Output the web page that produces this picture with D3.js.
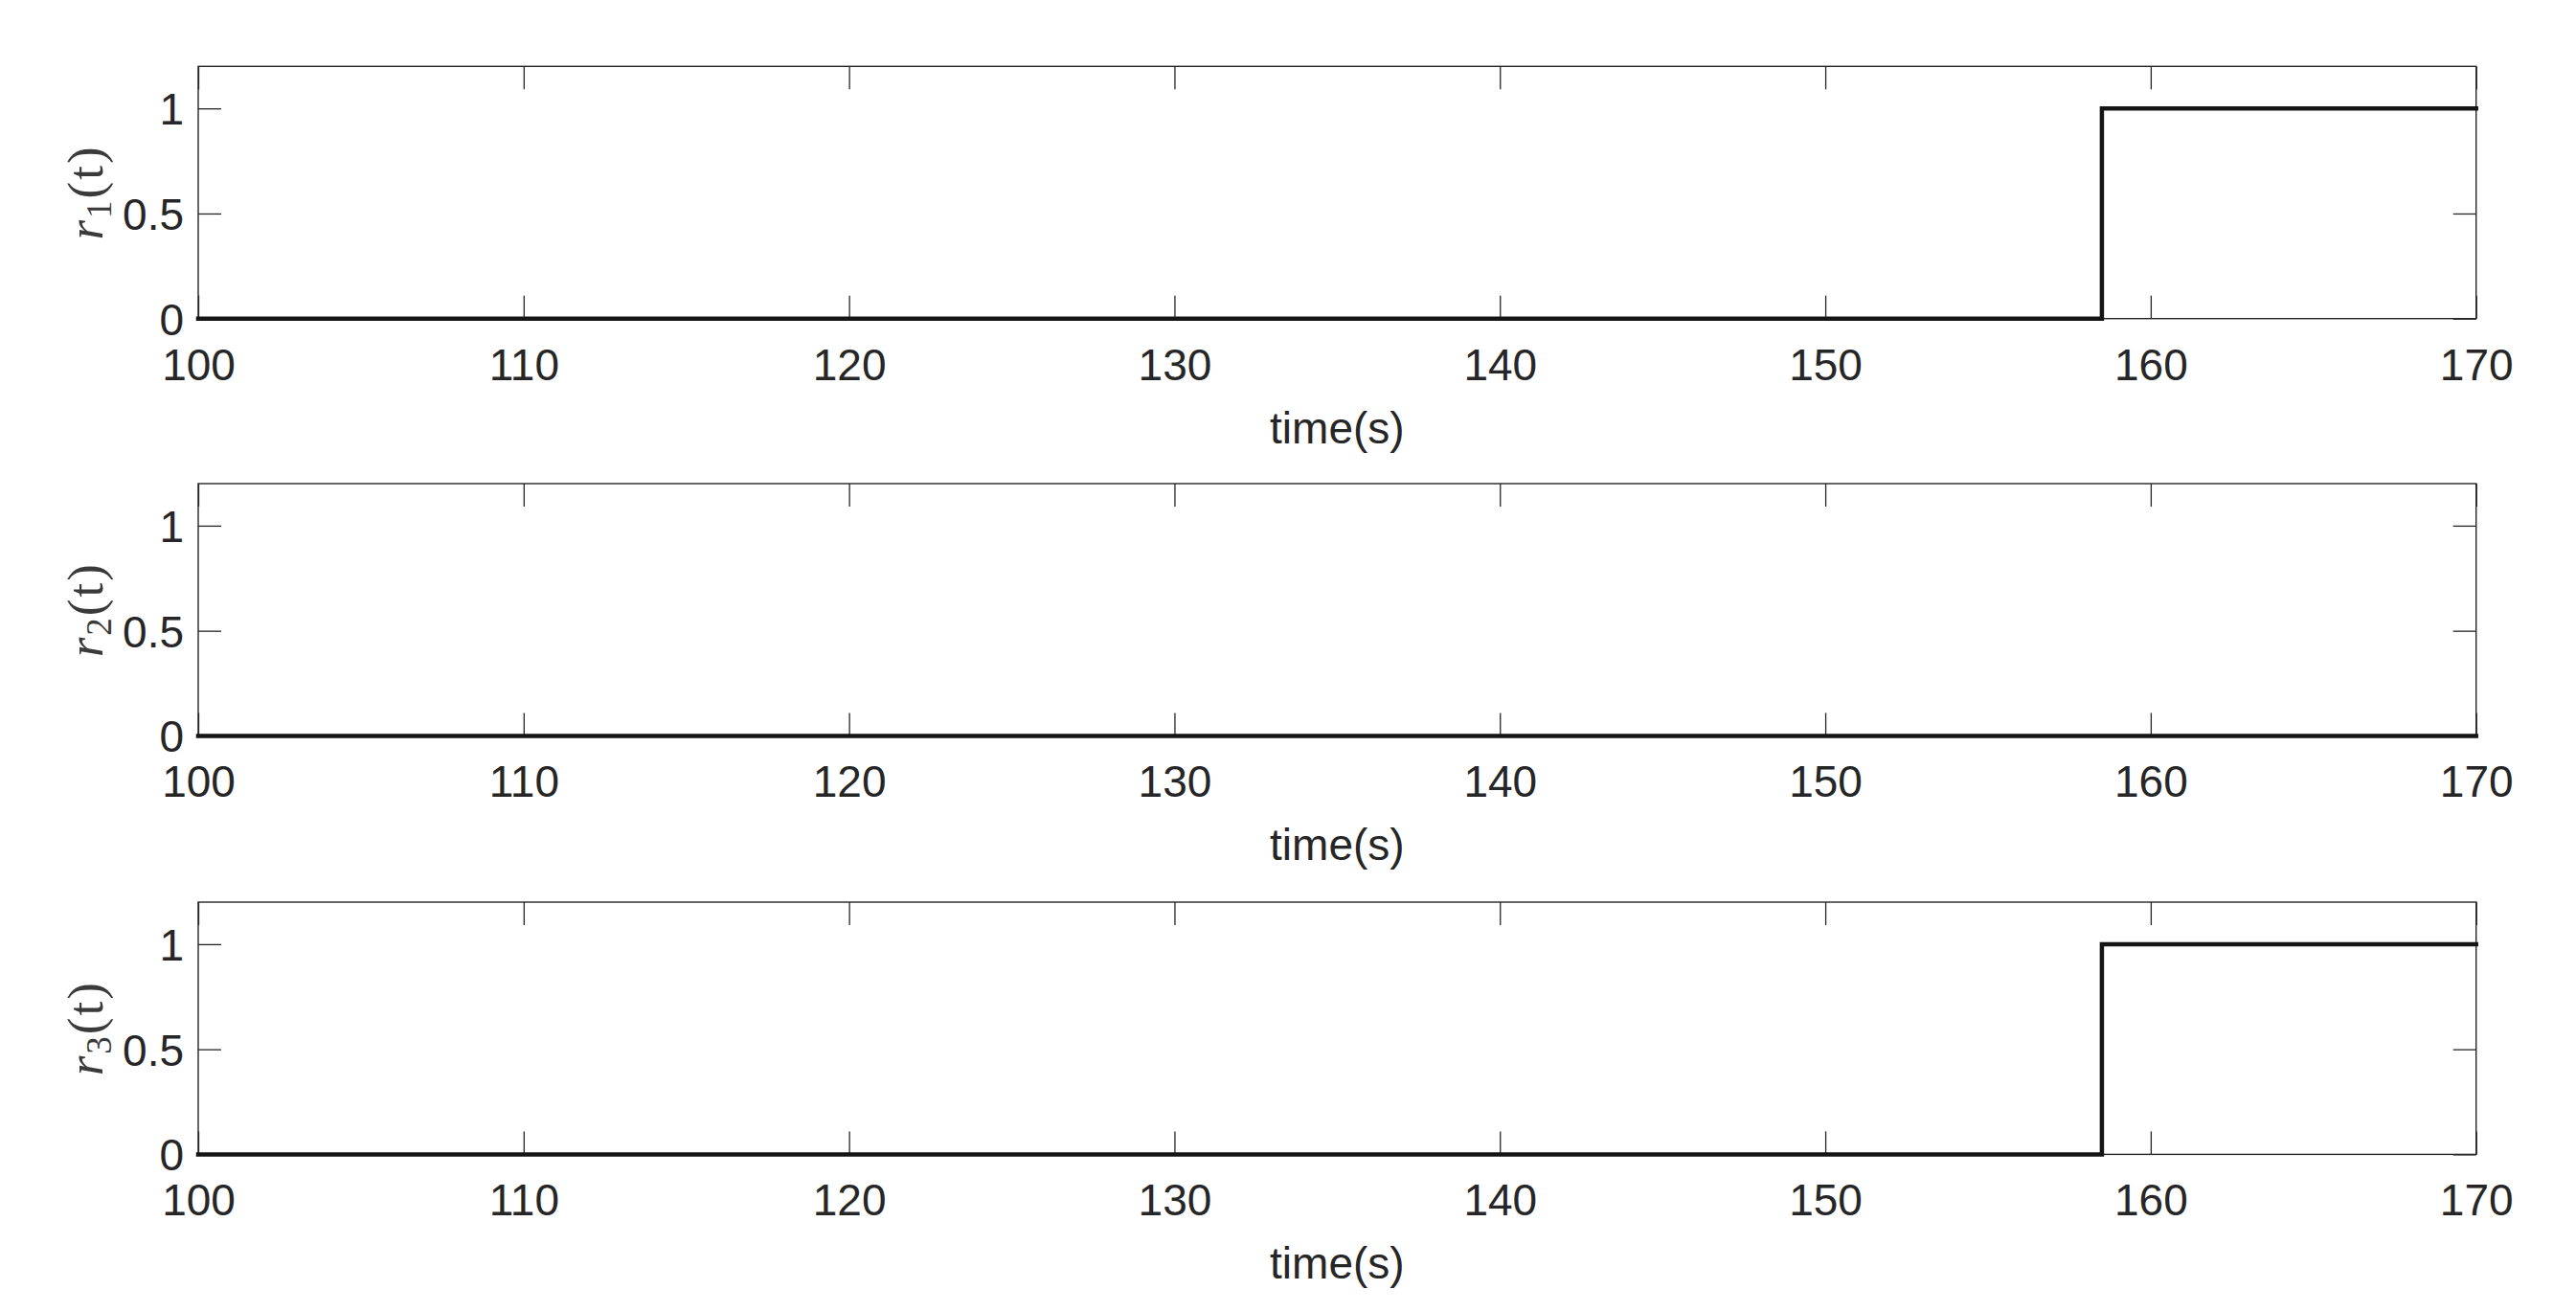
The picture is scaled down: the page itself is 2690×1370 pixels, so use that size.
<!DOCTYPE html>
<html>
<head>
<meta charset="utf-8">
<script src="https://cdn.jsdelivr.net/npm/d3@7"></script>
<style>
  html, body { margin: 0; padding: 0; background: #ffffff; }
  svg { display: block; }
</style>
</head>
<body>
<svg id="chart" width="2690" height="1370"></svg>
<script>
// ---- data ----
const time = [100, 158.5, 170];
const r1 = [0, 1, 1];
const r2 = [0, 0, 0];
const r3 = [0, 1, 1];
const seriesNames = ["1", "2", "3"];
const xTicks = [100, 110, 120, 130, 140, 150, 160, 170];
const yTicks = [0, 0.5, 1];
const xDomain = [100, 170];
const yDomain = [0, 1.2];
const xLabel = "time(s)";

// ---- layout ----
const W = 2690, H = 1370;
const left = 207, right = 2585.7;
const panelTops = [69.3, 505, 942];
const panelH = 263.4;
const axisColor = "#262626";
const textColor = "#262626";
const tickLen = 24;

const svg = d3.select("#chart");
svg.append("rect").attr("width", W).attr("height", H).attr("fill", "#fff");

const x = d3.scaleLinear().domain(xDomain).range([left, right]);
const allSeries = [r1, r2, r3];

allSeries.forEach((vals, i) => {
  const top = panelTops[i];
  const bottom = top + panelH;
  const y = d3.scaleLinear().domain(yDomain).range([bottom, top]);
  const g = svg.append("g");

  // bottom axis with labels (ticks inward)
  const xAxisB = d3.axisBottom(x).tickValues(xTicks).tickSize(-tickLen).tickPadding(0).tickFormat(d3.format("d"));
  const gxB = g.append("g").attr("transform", `translate(0,${bottom})`).call(xAxisB);
  gxB.select(".domain").remove();
  gxB.selectAll(".tick line").attr("stroke", axisColor).attr("stroke-width", 1.3);
  gxB.selectAll(".tick text")
     .attr("y", 64).attr("dy", null)
     .attr("font-family", "'Liberation Sans', Arial, sans-serif")
     .attr("font-size", 46).attr("fill", textColor);

  // top axis (mirror ticks, no labels)
  const xAxisT = d3.axisTop(x).tickValues(xTicks).tickSize(-tickLen).tickFormat("");
  const gxT = g.append("g").attr("transform", `translate(0,${top})`).call(xAxisT);
  gxT.select(".domain").remove();
  gxT.selectAll(".tick line").attr("stroke", axisColor).attr("stroke-width", 1.3);

  // left axis with labels
  const yAxisL = d3.axisLeft(y).tickValues(yTicks).tickSize(-tickLen).tickPadding(0).tickFormat(d => d === 0.5 ? "0.5" : d3.format("d")(d));
  const gyL = g.append("g").attr("transform", `translate(${left},0)`).call(yAxisL);
  gyL.select(".domain").remove();
  gyL.selectAll(".tick line").attr("stroke", axisColor).attr("stroke-width", 1.3);
  gyL.selectAll(".tick text")
     .attr("x", -15).attr("dy", "0.36em")
     .attr("font-family", "'Liberation Sans', Arial, sans-serif")
     .attr("font-size", 46).attr("fill", textColor);

  // right axis (mirror ticks)
  const yAxisR = d3.axisRight(y).tickValues(yTicks).tickSize(-tickLen).tickFormat("");
  const gyR = g.append("g").attr("transform", `translate(${right},0)`).call(yAxisR);
  gyR.select(".domain").remove();
  gyR.selectAll(".tick line").attr("stroke", axisColor).attr("stroke-width", 1.3);

  // box
  g.append("rect")
    .attr("x", left).attr("y", top)
    .attr("width", right - left).attr("height", panelH)
    .attr("fill", "none").attr("stroke", axisColor).attr("stroke-width", 1.4);

  // data line
  const line = d3.line()
    .x((d, k) => x(time[k]))
    .y(d => y(d))
    .curve(d3.curveStepAfter);
  g.append("path")
    .datum(vals)
    .attr("d", line)
    .attr("fill", "none")
    .attr("stroke", "#151515")
    .attr("stroke-width", 4.5)
    .attr("stroke-linejoin", "miter")
    .attr("stroke-linecap", "square");

  // x label
  g.append("text")
    .attr("x", (left + right) / 2).attr("y", bottom + 130)
    .attr("text-anchor", "middle")
    .attr("font-family", "'Liberation Sans', Arial, sans-serif")
    .attr("font-size", 46).attr("fill", textColor)
    .text(xLabel);

  // y label r_i(t)
  const yl = g.append("text")
    .attr("transform", `translate(107,${(top + bottom) / 2}) rotate(-90)`)
    .attr("text-anchor", "middle")
    .attr("font-family", "'Liberation Serif', 'Times New Roman', serif")
    .attr("font-size", 53).attr("letter-spacing", 2).attr("fill", "#3a3a3a");
  yl.append("tspan").attr("font-style", "italic").text("r");
  yl.append("tspan").attr("font-size", 37).attr("dy", 9).text(seriesNames[i]);
  yl.append("tspan").attr("dy", -9).text("(t)");
});
</script>
</body>
</html>
